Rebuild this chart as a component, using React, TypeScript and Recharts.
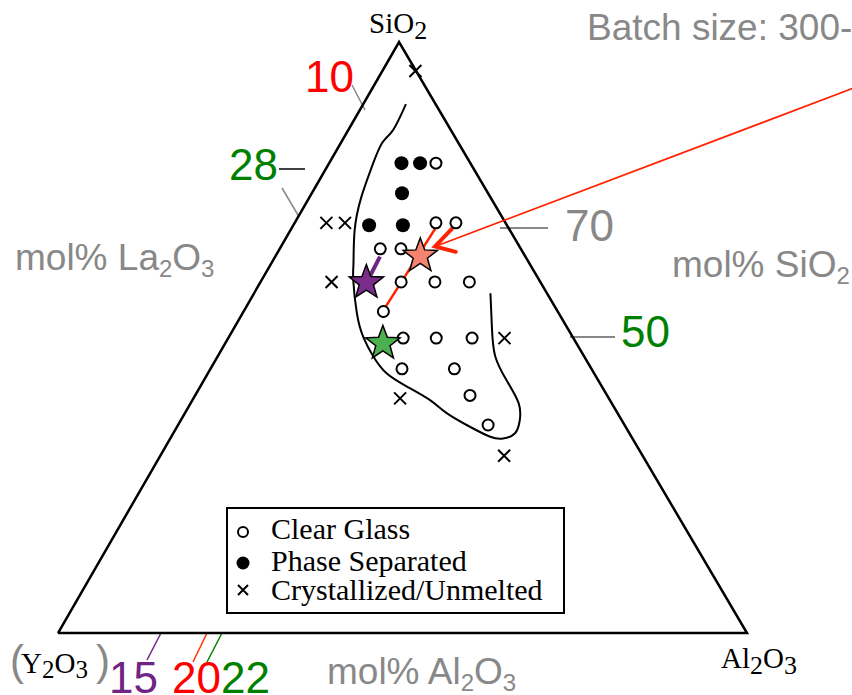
import React from 'react';
import { ComposedChart, Line, Scatter, XAxis, YAxis, Customized } from 'recharts';

// compositions as [mol% SiO2, mol% Al2O3]; La2O3 is the rest
const clearGlass: [number, number][] = [
  [79.5, 15.5], [69.4, 20.5], [69.4, 23.4], [65.0, 14.6], [65.0, 17.6],
  [59.4, 20.4], [59.4, 25.3], [59.4, 30.3], [54.4, 20.3], [49.9, 25.4],
  [49.9, 30.2], [49.9, 35.4], [44.7, 27.8], [44.7, 35.4], [40.2, 39.9],
  [35.2, 45.0],
];
const phaseSeparated: [number, number][] = [
  [79.5, 10.5], [79.5, 13.2], [74.4, 13.1], [69.0, 11.0], [69.0, 15.9],
];
const crystallized: [number, number][] = [
  [95.1, 4.8], [69.4, 4.6], [69.4, 7.3], [59.4, 10.3], [49.9, 40.1],
  [39.7, 30.0], [30.0, 49.9],
];
const starPurple: [number, number][] = [[59.3, 15.4]];
const starSalmon: [number, number][] = [[63.8, 21.0]];
const starGreen: [number, number][] = [[49.0, 22.9]];

// glass-forming region boundary
const boundary: [number, number][] = [
  [89.5, 6.2], [85.1, 6.5], [82.9, 6.0], [78.9, 6.5], [73.8, 7.5],
  [68.2, 9.3], [62.6, 11.9], [59.7, 13.3], [54.1, 16.6], [50.1, 19.5],
  [46.8, 22.6], [43.9, 26.0], [41.7, 30.0], [39.4, 34.5], [37.2, 38.0],
  [34.9, 42.5], [33.2, 46.3], [32.9, 48.3], [33.8, 49.6], [36.0, 49.2],
  [38.9, 47.6], [42.8, 43.9], [46.8, 40.3], [51.3, 37.6], [57.5, 34.3],
];
const triangle: [number, number][] = [[0, 0], [0, 100], [100, 0], [0, 0]];
const redPath: [number, number][] = [[68.8, 20.9], [54.5, 20.2]];
const purplePath: [number, number][] = [[63.7, 15.2], [60.2, 15.4]];
const arrowShaft: [number, number][] = [[92.2, 69.8], [65.4, 22.35]];
const arrowHead: [number, number][] = [[68.4, 23.3], [65.4, 22.35], [64.5, 25.8]];

// ternary -> cartesian (apex sits slightly left of centre in the scan)
const toXY = (pts: [number, number][]) =>
  pts.map(([si, al]) => ({ x: al + si * 0.495, y: si }));

const sans = '"Liberation Sans", Arial, sans-serif';
const serif = '"Liberation Serif", "Times New Roman", serif';
const gray = '#888888';

const OpenDot = (p: any) => (
  <circle cx={p.cx} cy={p.cy} r={5.5} fill="#fff" stroke="#000" strokeWidth={2} />
);
const FullDot = (p: any) => <circle cx={p.cx} cy={p.cy} r={7} fill="#000" />;
const Cross = (p: any) => (
  <path
    d={`M${p.cx - 6},${p.cy - 6}L${p.cx + 6},${p.cy + 6}M${p.cx - 6},${p.cy + 6}L${p.cx + 6},${p.cy - 6}`}
    stroke="#000"
    strokeWidth={2}
  />
);
const makeStar = (fill: string) => (p: any) => {
  const pts: string[] = [];
  for (let i = 0; i < 10; i++) {
    const r = i % 2 === 0 ? 18 : 7.5;
    const a = -Math.PI / 2 + (i * Math.PI) / 5;
    pts.push(`${p.cx + r * Math.cos(a)},${p.cy + r * Math.sin(a)}`);
  }
  return <polygon points={pts.join(' ')} fill={fill} stroke="#000" strokeWidth={1.5} strokeLinejoin="miter" />;
};

const Annotations = () => (
  <g>
    {/* corner labels */}
    <text x={369} y={33} fontFamily={serif} fontSize={29} fill="#000">
      SiO<tspan fontSize={26} dy={6}>2</tspan>
    </text>
    <text x={721} y={668} fontFamily={serif} fontSize={29} fill="#000">
      Al<tspan fontSize={26} dy={6}>2</tspan><tspan dy={-6}>O</tspan><tspan fontSize={26} dy={6}>3</tspan>
    </text>
    <text x={10} y={675} fontFamily={sans} fontSize={42} fill={gray}>(</text>
    <text x={21} y={673} fontFamily={serif} fontSize={29} fill="#000">
      Y<tspan fontSize={25} dy={5}>2</tspan><tspan dy={-5}>O</tspan><tspan fontSize={25} dy={5}>3</tspan>
    </text>
    <text x={96} y={675} fontFamily={sans} fontSize={42} fill={gray}>)</text>

    {/* axis titles */}
    <text x={15} y={270} fontFamily={sans} fontSize={37} fill={gray}>
      mol% La<tspan fontSize={24} dy={7}>2</tspan><tspan dy={-7}>O</tspan><tspan fontSize={24} dy={7}>3</tspan>
    </text>
    <text x={672} y={277} fontFamily={sans} fontSize={37} fill={gray}>
      mol% SiO<tspan fontSize={24} dy={7}>2</tspan>
    </text>
    <text x={327} y={684} fontFamily={sans} fontSize={37} fill={gray}>
      mol% Al<tspan fontSize={24} dy={7}>2</tspan><tspan dy={-7}>O</tspan><tspan fontSize={24} dy={7}>3</tspan>
    </text>
    <text x={587} y={40} fontFamily={sans} fontSize={37} fill={gray}>Batch size: 300-</text>

    {/* callout numbers */}
    <line x1={352} y1={85} x2={365} y2={110} stroke={gray} strokeWidth={1.5} />
    <text x={305} y={92} fontFamily={sans} fontSize={44} fill="#ff0000">10</text>
    <line x1={279} y1={169} x2={305} y2={169} stroke="#000" strokeWidth={1.5} />
    <line x1={282} y1={188} x2={298} y2={215} stroke={gray} strokeWidth={1.5} />
    <text x={229} y={180} fontFamily={sans} fontSize={44} fill="#008000">28</text>
    <line x1={500} y1={228} x2={548} y2={228} stroke={gray} strokeWidth={2} />
    <text x={565} y={241} fontFamily={sans} fontSize={44} fill={gray}>70</text>
    <line x1={570} y1={337} x2={615} y2={337} stroke={gray} strokeWidth={2} />
    <text x={621} y={347} fontFamily={sans} fontSize={44} fill="#008000">50</text>
    <line x1={161} y1={633} x2={147} y2={660} stroke="#702585" strokeWidth={1.5} />
    <line x1={207} y1={633} x2={193} y2={662} stroke="#ff3300" strokeWidth={1.5} />
    <line x1={222} y1={633} x2={207} y2={662} stroke="#008000" strokeWidth={1.5} />
    <text x={109} y={693} fontFamily={sans} fontSize={44} fill="#702585">15</text>
    <text x={172} y={693} fontFamily={sans} fontSize={44} fill="#ff0000">20</text>
    <text x={221} y={693} fontFamily={sans} fontSize={44} fill="#008000">22</text>

    {/* legend */}
    <rect x={227} y={508} width={337} height={105} fill="#fff" stroke="#000" strokeWidth={2} />
    <circle cx={243} cy={532} r={5} fill="#fff" stroke="#000" strokeWidth={2} />
    <circle cx={243} cy={563} r={6.5} fill="#000" />
    <path d="M238,585L248,595M238,595L248,585" stroke="#000" strokeWidth={2} />
    <text x={271} y={539} fontFamily={serif} fontSize={30} fill="#000">Clear Glass</text>
    <text x={271} y={571} fontFamily={serif} fontSize={30} fill="#000">Phase Separated</text>
    <text x={271} y={600} fontFamily={serif} fontSize={30} fill="#000">Crystallized/Unmelted</text>
  </g>
);

export default function App() {
  return (
    <div style={{ position: 'absolute', left: 0, top: 0, width: 852, height: 695, background: '#fff' }}>
      <ComposedChart width={852} height={695} margin={{ top: 0, right: 0, bottom: 0, left: 0 }}>
        <XAxis type="number" dataKey="x" domain={[-8.418, 115.24]} allowDataOverflow hide />
        <YAxis type="number" dataKey="y" domain={[-10.49, 107.11]} allowDataOverflow hide />
        <Line data={toXY(triangle)} dataKey="y" type="linear" stroke="#000" strokeWidth={2.5}
          dot={false} activeDot={false} isAnimationActive={false} />
        <Line data={toXY(boundary)} dataKey="y" type="natural" stroke="#000" strokeWidth={2}
          dot={false} activeDot={false} isAnimationActive={false} />
        <Scatter name="Clear Glass" data={toXY(clearGlass)} shape={OpenDot} isAnimationActive={false} />
        <Scatter name="Phase Separated" data={toXY(phaseSeparated)} shape={FullDot} isAnimationActive={false} />
        <Scatter name="Crystallized/Unmelted" data={toXY(crystallized)} shape={Cross} isAnimationActive={false} />
        <Line data={toXY(purplePath)} dataKey="y" type="linear" stroke="#702585" strokeWidth={4}
          dot={false} activeDot={false} isAnimationActive={false} />
        <Scatter data={toXY(starPurple)} shape={makeStar('#7b2d8b')} isAnimationActive={false} />
        <Scatter data={toXY(starSalmon)} shape={makeStar('#f4846f')} isAnimationActive={false} />
        <Scatter data={toXY(starGreen)} shape={makeStar('#4caf50')} isAnimationActive={false} />
        <Line data={toXY(redPath)} dataKey="y" type="linear" stroke="#ff2200" strokeWidth={2.5}
          dot={false} activeDot={false} isAnimationActive={false} />
        <Line data={toXY(arrowShaft)} dataKey="y" type="linear" stroke="#ff2200" strokeWidth={1.8}
          dot={false} activeDot={false} isAnimationActive={false} />
        <Line data={toXY(arrowHead)} dataKey="y" type="linear" stroke="#ff2200" strokeWidth={4}
          strokeLinecap="round" dot={false} activeDot={false} isAnimationActive={false} />
        <Customized component={Annotations} />
      </ComposedChart>
    </div>
  );
}
